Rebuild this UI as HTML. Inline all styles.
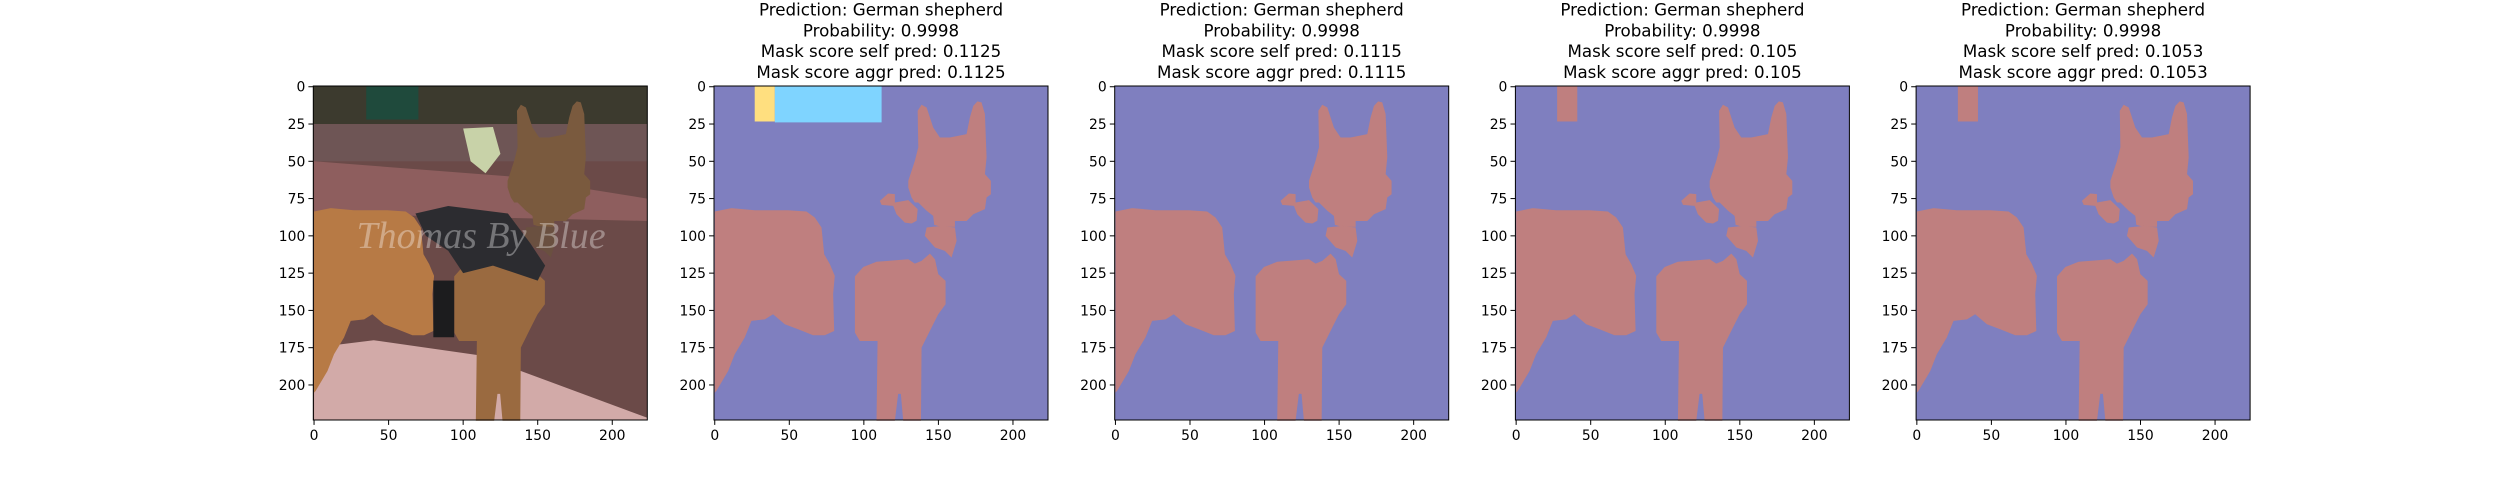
<!DOCTYPE html>
<html><head><meta charset="utf-8">
<style>
html,body{margin:0;padding:0;background:#fff;}
svg{display:block;font-family:"DejaVu Sans","Liberation Sans",sans-serif;}
</style></head>
<body>
<svg id="fig" width="2500" height="500" viewBox="0 0 2500 500" xmlns="http://www.w3.org/2000/svg"></svg>
<script>
const xTicks=[0,50,100,150,200];
const yTicks=[0,25,50,75,100,125,150,175,200];
const predictions=["German shepherd","German shepherd","German shepherd","German shepherd"];
const probabilities=["0.9998","0.9998","0.9998","0.9998"];
const selfScores=["0.1125","0.1115","0.105","0.1053"];
const aggrScores=["0.1125","0.1115","0.105","0.1053"];
const bodyPoly=[[0,83.7],[11.2,81.4],[26.8,82.8],[49.2,82.8],[61.5,83.7],[67.1,87.7],[71.6,94.4],[73.4,112.3],[77.2,119],[80.5,126.8],[79.4,139],[80.1,163.8],[73.8,166.7],[66,166.7],[55.9,162.6],[47,159.3],[39.1,152.6],[33.6,156],[24.6,157],[20.1,168.2],[13.4,179.4],[9,190.6],[1.1,204],[0,205.1]];
const legsPoly=[[94,127.2],[99.6,120.9],[108.5,117.4],[129.8,115.7],[134.2,118.6],[138.7,116.8],[144.3,111.9],[147.7,115.7],[149.9,125.7],[154.8,130.2],[154.8,145.9],[149.9,152.6],[145.4,161.5],[138.7,175],[138.3,224],[126.4,224],[124.8,206],[123,206],[120.8,224],[108.5,224],[109.2,170.5],[97.3,170.5],[94,164.9]];
const headPoly=[[129.8,63.1],[134.2,49.7],[136.5,40.7],[136.1,16.1],[138.7,12.1],[142.1,13.9],[146.5,27.3],[151,34],[157.7,34],[168.9,31.8],[171.1,20.6],[173.4,12.8],[176.2,9.8],[178.9,10.5],[181.2,18.3],[182.3,47.4],[181.2,58.6],[185.2,63.1],[185.2,72.1],[182.3,74.3],[181.2,82.1],[173.4,85.5],[168.9,90],[161.1,90],[161.1,94],[152.1,94],[147.2,92.6],[146.5,86.6],[142.1,83.2],[136.5,77.6],[134.2,77.6],[132,74.3],[129.8,67.6]];
const collarPoly=[[110.7,76.5],[116.3,71.6],[120.8,72],[120.8,77.6],[129.8,76],[136.1,82.1],[135.4,89.9],[132,91.7],[127.5,91.1],[121.9,85.5],[119.7,79.9],[111.9,79.2]];
const chestPoly=[[142.1,94.4],[152.1,93.3],[161.1,94.4],[162.2,103.4],[158.8,114.5],[154.3,110.1],[147.7,107.8],[140.9,100]];
const extraBoxes=[
 [[26.8,-0.5,40.3,23.3,"#ffdf7f"],[40.3,-0.5,111.9,23.9,"#7fd4ff"]],
 [],
 [[27.5,-0.5,41,23.3,"#bf7f7f"]],
 [[27.5,-0.5,41,23.3,"#bf7f7f"]]
];
const NS="http://www.w3.org/2000/svg";
const fig=document.getElementById('fig');
const AX0=313.3, STEP=400.7, AW=334, AY=86, AH=334;
function mk(tag,attrs,parent){const e=document.createElementNS(NS,tag);for(const k in attrs)e.setAttribute(k,attrs[k]);(parent||fig).appendChild(e);return e;}
function sx(i,v){return AX0+i*STEP+(v+0.5)/224*AW;}
function sy(v){return AY+(v+0.5)/224*AH;}
function poly(i,pts,fill,g,name){const p=mk('polygon',{points:pts.map(q=>sx(i,q[0])+','+sy(q[1])).join(' '),fill:fill},g);return p;}
function rect(i,x0,y0,x1,y1,fill,g,name){const r=mk('rect',{x:sx(i,x0),y:sy(y0),width:sx(i,x1)-sx(i,x0),height:sy(y1)-sy(y0),fill:fill},g);return r;}
for(let i=0;i<5;i++){
  const g=mk('g',{});
  
  
  const L=AX0+i*STEP;
  if(i===0){
    rect(0,-0.5,-0.5,223.5,223.5,"#6b4a48",g,'photo-background');
    rect(0,-0.5,-0.5,223.5,25,"#3c3a2e",g,'photo-trees');
    rect(0,35,-0.5,70,22,"#1f4a3c",g,'photo-green-panel');
    rect(0,-0.5,25,223.5,50,"#6e5555",g,'photo-wall-top');
    poly(0,[[0,50],[130,60],[223.5,75],[223.5,90],[0,85]],"#8e5e5e",g,'photo-ledge');
    poly(0,[[0,175],[40,170],[110,180],[223.5,222],[223.5,223.5],[0,223.5]],"#d2aaa8",g,'photo-pavement');
    poly(0,[[100,28],[120,27],[125,45],[115,58],[105,50]],"#c8d2a8",g,'photo-flowers');
    poly(0,bodyPoly.concat([[0,223.5],[0,205]]),"#b77a45",g,'photo-dog-body');
    poly(0,legsPoly,"#9a6a40",g,'photo-dog-legs');
    poly(0,headPoly,"#7a5a3e",g,'photo-dog-head');
    poly(0,chestPoly,"#6a5040",g,'photo-dog-chest');
    poly(0,[[68,85],[90,80],[130,85],[145,105],[155,120],[150,130],[120,120],[100,125],[90,110],[75,100]],"#2c2c30",g,'photo-dog-vest');
    rect(0,80,130,94,168,"#1c1c1e",g,'photo-vest-strap');
    const wm=mk('text',{x:sx(0,112),y:sy(108),'text-anchor':'middle','font-size':38,'font-family':'"Liberation Serif",serif','font-style':'italic',fill:'rgba(255,255,255,0.35)'},g);
    wm.textContent='Thomas By Blue';
    
    
  } else {
    rect(i,-0.5,-0.5,223.5,223.5,"#7f7fbf",g,'mask-background');
    poly(i,bodyPoly,"#bf7f7f",g,'mask-body');
    poly(i,legsPoly,"#bf7f7f",g,'mask-legs');
    poly(i,headPoly,"#bf7f7f",g,'mask-head');
    poly(i,collarPoly,"#bf7f7f",g,'mask-collar');
    poly(i,chestPoly,"#bf7f7f",g,'mask-chest');
    extraBoxes[i-1].forEach((b,k)=>{rect(i,b[0],b[1],b[2],b[3],b[4],g,'mask-box-'+(k+1));});
    const lines=["Prediction: "+predictions[i-1],"Probability: "+probabilities[i-1],"Mask score self pred: "+selfScores[i-1],"Mask score aggr pred: "+aggrScores[i-1]];
    lines.forEach((s,k)=>{
      const t=mk('text',{x:L+AW/2,y:15.5+k*20.8,'text-anchor':'middle','font-size':16.7,fill:'#000'},g);
      t.textContent=s;
      
      
    });
  }
  const fr=mk('rect',{x:L,y:AY,width:AW,height:AH,fill:'none',stroke:'#000','stroke-width':1},g);
  
  
  xTicks.forEach(v=>{
    const x=sx(i,v);
    const tl=mk('line',{x1:x,x2:x,y1:AY+AH,y2:AY+AH+4.9,stroke:'#000','stroke-width':1},g);
    
    
    const t=mk('text',{x:x,y:AY+AH+20,'text-anchor':'middle','font-size':13.9,fill:'#000'},g);
    t.textContent=v;
    
    
  });
  yTicks.forEach(v=>{
    const y=sy(v);
    const tl=mk('line',{x1:L-4.9,x2:L,y1:y,y2:y,stroke:'#000','stroke-width':1},g);
    
    
    const t=mk('text',{x:L-8,y:y+5,'text-anchor':'end','font-size':13.9,fill:'#000'},g);
    t.textContent=v;
    
    
  });
}
</script>
</body></html>
